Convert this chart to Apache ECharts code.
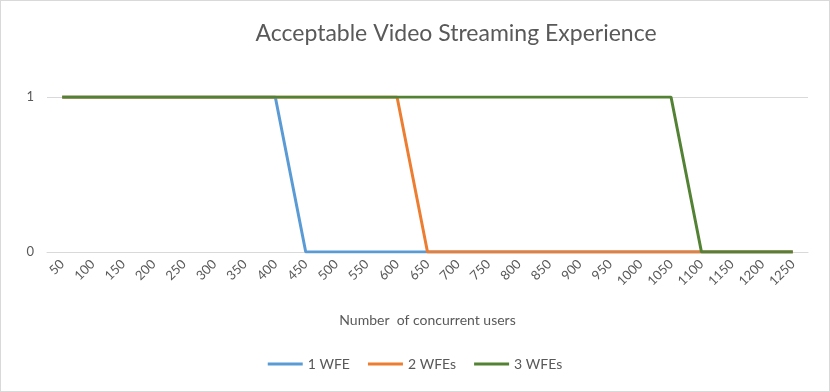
<!DOCTYPE html>
<html><head><meta charset="utf-8">
<script src="https://cdn.jsdelivr.net/npm/echarts@6/dist/echarts.min.js"></script>
<style>html,body{margin:0;padding:0;background:#fff}#c{width:828px;height:390px;border:1px solid #d9d9d9}</style>
</head><body><div id="c"></div>
<script>
const categories = ['50','100','150','200','250','300','350','400','450','500','550','600','650','700','750','800','850','900','950','1000','1050','1100','1150','1200','1250'];
const wfe1 = [1,1,1,1,1,1,1,1,0,0,0,0,0,0,0,0,0,0,0,0,0,0,0,0,0];
const wfe2 = [1,1,1,1,1,1,1,1,1,1,1,1,0,0,0,0,0,0,0,0,0,0,0,0,0];
const wfe3 = [1,1,1,1,1,1,1,1,1,1,1,1,1,1,1,1,1,1,1,1,1,0,0,0,0];
const seriesNames = ['1 WFE','2 WFEs','3 WFEs'];
const colors = ['#5B9BD5','#ED7D31','#548235'];
const font = 'Lato, "Open Sans", sans-serif';
const chart = echarts.init(document.getElementById('c'));
chart.setOption({
  animation:false,
  color: colors,
  title:{text:'Acceptable Video Streaming Experience', left:450, top:16, textAlign:'center',
    textStyle:{fontFamily:font, fontSize:23, fontWeight:'normal', color:'#595959'}},
  grid:{left:46, right:21, top:96, bottom:139, containLabel:false},
  legend:{bottom:15, left:'center', icon:'rect', itemWidth:35, itemHeight:3, itemGap:18,
    textStyle:{fontFamily:font, fontSize:14, color:'#595959'}, data:seriesNames},
  xAxis:{type:'category', data:categories, boundaryGap:true,
    axisLine:{lineStyle:{color:'#d9d9d9'}}, axisTick:{show:false},
    axisLabel:{rotate:45, fontFamily:font, fontSize:13, color:'#595959', margin:10, interval:0},
    name:'Number  of concurrent users', nameLocation:'middle', nameGap:61,
    nameTextStyle:{fontFamily:font, fontSize:14, color:'#595959'}},
  yAxis:{type:'value', min:0, max:1, interval:1,
    axisLine:{show:false}, axisTick:{show:false},
    splitLine:{lineStyle:{color:'#d9d9d9'}},
    axisLabel:{fontFamily:font, fontSize:13, color:'#595959', margin:13}},
  series:[
    {name:seriesNames[0], type:'line', data:wfe1, symbol:'none', lineStyle:{width:3}, z:3},
    {name:seriesNames[1], type:'line', data:wfe2, symbol:'none', lineStyle:{width:3}, z:4},
    {name:seriesNames[2], type:'line', data:wfe3, symbol:'none', lineStyle:{width:3}, z:5}
  ]
});
</script></body></html>
